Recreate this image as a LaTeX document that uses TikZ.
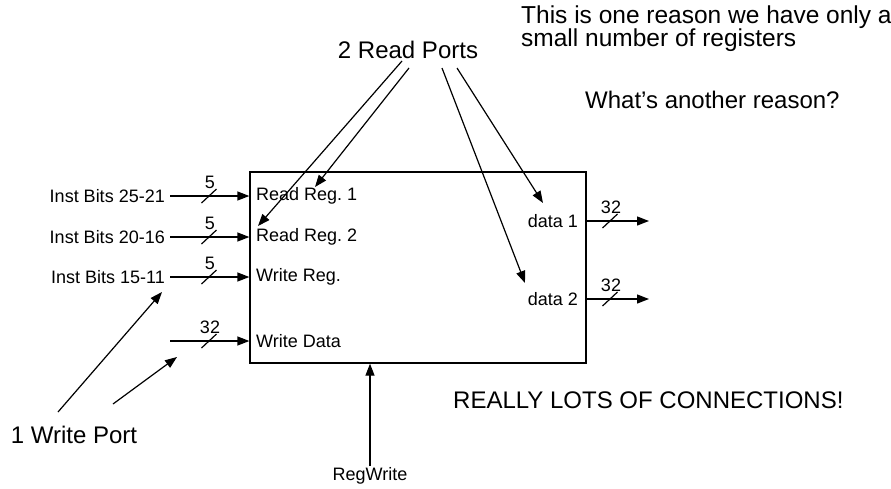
\documentclass[tikz,border=0pt]{standalone}
\usepackage{fontspec}
\setmainfont{Liberation Sans}
\usetikzlibrary{arrows.meta}
\frenchspacing
\begin{document}
\begin{tikzpicture}[x=1pt,y=-1pt,
  wire/.style={line width=1.3pt,-{Triangle[length=12pt,width=9pt]}},
  pointer/.style={line width=1.2pt,-{Triangle[length=12pt,width=9pt]}},
  bus/.style={line width=1.2pt},
  small/.style={font=\fontsize{18}{20}\selectfont,inner sep=0pt},
  big/.style={font=\fontsize{24}{28}\selectfont,inner sep=0pt},
  note/.style={font=\fontsize{24.5}{28}\selectfont,inner sep=0pt},
  regfile/.style={draw,line width=1.3pt,minimum width=336pt,minimum height=191pt,inner sep=0pt}]
\useasboundingbox (0,0) rectangle (891,488);

% register file block
\node[regfile] (rf) at (418,267.5) {};

% port names inside the block
\node[small,anchor=west] (rr1) at (256,196) {Read Reg. 1};
\node[small,anchor=west] (rr2) at (256,237) {Read Reg. 2};
\node[small,anchor=west] (wr)  at (256,277) {Write Reg.};
\node[small,anchor=west] (wd)  at (256,341) {Write Data};
\node[small,anchor=east] (d1)  at (578,221) {data 1};
\node[small,anchor=east] (d2)  at (578,299) {data 2};

% instruction field sources
\node[small,anchor=east] (ib1) at (165,196) {Inst Bits 25-21};
\node[small,anchor=east] (ib2) at (165,237) {Inst Bits 20-16};
\node[small,anchor=east] (ib3) at (165,277) {Inst Bits 15-11};

\coordinate (s1) at (170,196); \coordinate (t1) at (rf.west |- s1);
\coordinate (s2) at (170,237); \coordinate (t2) at (rf.west |- s2);
\coordinate (s3) at (170,277); \coordinate (t3) at (rf.west |- s3);
\coordinate (s4) at (170,341); \coordinate (t4) at (rf.west |- s4);
\coordinate (o1) at (rf.east |- d1); \coordinate (e1) at (649,221);
\coordinate (o2) at (rf.east |- d2); \coordinate (e2) at (649,299);

\draw[wire] (s1) -- (t1);
\draw[wire] (s2) -- (t2);
\draw[wire] (s3) -- (t3);
\draw[wire] (s4) -- (t4);
\draw[wire] (o1) -- (e1);
\draw[wire] (o2) -- (e2);

% bus width marks
\foreach \x/\y/\w [count=\i] in {209/196/5,209/237/5,209/277/5,209/341/32,610/221/32,610/299/32}{
  \draw[bus] (\x-7.5,\y+7) -- (\x+7.5,\y-7);
  \node[small] (bw\i) at (\x+1,\y-14) {\w};
}

% write enable
\node[small] (rw) at (370,476) {RegWrite};
\coordinate (rwtop) at (370,466);
\draw[wire] (rwtop) -- (rw |- rf.south);

% annotations
\node[big] (rp) at (408,50) {2 Read Ports};
\node[big] (wp) at (74,435) {1 Write Port};
\coordinate (rpa) at (402,61);
\coordinate (rpb) at (409,68);
\coordinate (rpc) at (442,68);
\coordinate (rpd) at (457,68);
\coordinate (wpa) at (58,412);
\coordinate (wpb) at (113,404);
\draw[pointer] (rpa) -- (258,226);
\draw[pointer] (rpb) -- (315,187);
\draw[pointer] (rpc) -- (525,283);
\draw[pointer] (rpd) -- (543,203);
\draw[pointer] (wpa) -- (162,292);
\draw[pointer] (wpb) -- (177,357);

\node[note,anchor=base west] (n1) at (521,23.5) {This is one reason we have only a};
\node[note,anchor=base west] (n2) at (521,46.5) {small number of registers};
\node[big,anchor=west] (n3) at (585,100) {What’s another reason?};
\node[big,anchor=west] (n4) at (453,400) {REALLY LOTS OF CONNECTIONS!};
\end{tikzpicture}
\end{document}
